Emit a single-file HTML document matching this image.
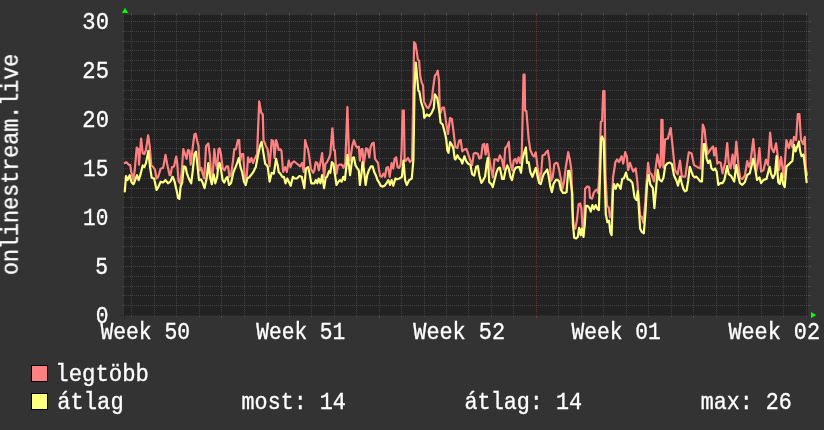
<!DOCTYPE html>
<html><head><meta charset="utf-8"><style>
html,body{margin:0;padding:0;background:#333333;}
body{width:824px;height:430px;overflow:hidden;}
svg{display:block;}
</style></head><body>
<svg width="824" height="430" viewBox="0 0 824 430">
<rect width="824" height="430" fill="#333333"/>
<rect x="124" y="15" width="684" height="301" fill="#222222"/>
<g shape-rendering="crispEdges"><line x1="124" y1="305.5" x2="808" y2="305.5" stroke="rgba(143,143,143,0.28)" stroke-dasharray="1 1"/><rect x="123" y="305" width="1" height="1" fill="rgba(143,143,143,0.28)"/><rect x="808" y="305" width="3" height="1" fill="rgba(143,143,143,0.28)"/><line x1="124" y1="295.5" x2="808" y2="295.5" stroke="rgba(143,143,143,0.28)" stroke-dasharray="1 1"/><rect x="123" y="295" width="1" height="1" fill="rgba(143,143,143,0.28)"/><rect x="808" y="295" width="3" height="1" fill="rgba(143,143,143,0.28)"/><line x1="124" y1="286.5" x2="808" y2="286.5" stroke="rgba(143,143,143,0.28)" stroke-dasharray="1 1"/><rect x="123" y="286" width="1" height="1" fill="rgba(143,143,143,0.28)"/><rect x="808" y="286" width="3" height="1" fill="rgba(143,143,143,0.28)"/><line x1="124" y1="276.5" x2="808" y2="276.5" stroke="rgba(143,143,143,0.28)" stroke-dasharray="1 1"/><rect x="123" y="276" width="1" height="1" fill="rgba(143,143,143,0.28)"/><rect x="808" y="276" width="3" height="1" fill="rgba(143,143,143,0.28)"/><line x1="124" y1="256.5" x2="808" y2="256.5" stroke="rgba(143,143,143,0.28)" stroke-dasharray="1 1"/><rect x="123" y="256" width="1" height="1" fill="rgba(143,143,143,0.28)"/><rect x="808" y="256" width="3" height="1" fill="rgba(143,143,143,0.28)"/><line x1="124" y1="246.5" x2="808" y2="246.5" stroke="rgba(143,143,143,0.28)" stroke-dasharray="1 1"/><rect x="123" y="246" width="1" height="1" fill="rgba(143,143,143,0.28)"/><rect x="808" y="246" width="3" height="1" fill="rgba(143,143,143,0.28)"/><line x1="124" y1="237.5" x2="808" y2="237.5" stroke="rgba(143,143,143,0.28)" stroke-dasharray="1 1"/><rect x="123" y="237" width="1" height="1" fill="rgba(143,143,143,0.28)"/><rect x="808" y="237" width="3" height="1" fill="rgba(143,143,143,0.28)"/><line x1="124" y1="227.5" x2="808" y2="227.5" stroke="rgba(143,143,143,0.28)" stroke-dasharray="1 1"/><rect x="123" y="227" width="1" height="1" fill="rgba(143,143,143,0.28)"/><rect x="808" y="227" width="3" height="1" fill="rgba(143,143,143,0.28)"/><line x1="124" y1="207.5" x2="808" y2="207.5" stroke="rgba(143,143,143,0.28)" stroke-dasharray="1 1"/><rect x="123" y="207" width="1" height="1" fill="rgba(143,143,143,0.28)"/><rect x="808" y="207" width="3" height="1" fill="rgba(143,143,143,0.28)"/><line x1="124" y1="197.5" x2="808" y2="197.5" stroke="rgba(143,143,143,0.28)" stroke-dasharray="1 1"/><rect x="123" y="197" width="1" height="1" fill="rgba(143,143,143,0.28)"/><rect x="808" y="197" width="3" height="1" fill="rgba(143,143,143,0.28)"/><line x1="124" y1="188.5" x2="808" y2="188.5" stroke="rgba(143,143,143,0.28)" stroke-dasharray="1 1"/><rect x="123" y="188" width="1" height="1" fill="rgba(143,143,143,0.28)"/><rect x="808" y="188" width="3" height="1" fill="rgba(143,143,143,0.28)"/><line x1="124" y1="178.5" x2="808" y2="178.5" stroke="rgba(143,143,143,0.28)" stroke-dasharray="1 1"/><rect x="123" y="178" width="1" height="1" fill="rgba(143,143,143,0.28)"/><rect x="808" y="178" width="3" height="1" fill="rgba(143,143,143,0.28)"/><line x1="124" y1="158.5" x2="808" y2="158.5" stroke="rgba(143,143,143,0.28)" stroke-dasharray="1 1"/><rect x="123" y="158" width="1" height="1" fill="rgba(143,143,143,0.28)"/><rect x="808" y="158" width="3" height="1" fill="rgba(143,143,143,0.28)"/><line x1="124" y1="148.5" x2="808" y2="148.5" stroke="rgba(143,143,143,0.28)" stroke-dasharray="1 1"/><rect x="123" y="148" width="1" height="1" fill="rgba(143,143,143,0.28)"/><rect x="808" y="148" width="3" height="1" fill="rgba(143,143,143,0.28)"/><line x1="124" y1="139.5" x2="808" y2="139.5" stroke="rgba(143,143,143,0.28)" stroke-dasharray="1 1"/><rect x="123" y="139" width="1" height="1" fill="rgba(143,143,143,0.28)"/><rect x="808" y="139" width="3" height="1" fill="rgba(143,143,143,0.28)"/><line x1="124" y1="129.5" x2="808" y2="129.5" stroke="rgba(143,143,143,0.28)" stroke-dasharray="1 1"/><rect x="123" y="129" width="1" height="1" fill="rgba(143,143,143,0.28)"/><rect x="808" y="129" width="3" height="1" fill="rgba(143,143,143,0.28)"/><line x1="124" y1="109.5" x2="808" y2="109.5" stroke="rgba(143,143,143,0.28)" stroke-dasharray="1 1"/><rect x="123" y="109" width="1" height="1" fill="rgba(143,143,143,0.28)"/><rect x="808" y="109" width="3" height="1" fill="rgba(143,143,143,0.28)"/><line x1="124" y1="99.5" x2="808" y2="99.5" stroke="rgba(143,143,143,0.28)" stroke-dasharray="1 1"/><rect x="123" y="99" width="1" height="1" fill="rgba(143,143,143,0.28)"/><rect x="808" y="99" width="3" height="1" fill="rgba(143,143,143,0.28)"/><line x1="124" y1="90.5" x2="808" y2="90.5" stroke="rgba(143,143,143,0.28)" stroke-dasharray="1 1"/><rect x="123" y="90" width="1" height="1" fill="rgba(143,143,143,0.28)"/><rect x="808" y="90" width="3" height="1" fill="rgba(143,143,143,0.28)"/><line x1="124" y1="80.5" x2="808" y2="80.5" stroke="rgba(143,143,143,0.28)" stroke-dasharray="1 1"/><rect x="123" y="80" width="1" height="1" fill="rgba(143,143,143,0.28)"/><rect x="808" y="80" width="3" height="1" fill="rgba(143,143,143,0.28)"/><line x1="124" y1="60.5" x2="808" y2="60.5" stroke="rgba(143,143,143,0.28)" stroke-dasharray="1 1"/><rect x="123" y="60" width="1" height="1" fill="rgba(143,143,143,0.28)"/><rect x="808" y="60" width="3" height="1" fill="rgba(143,143,143,0.28)"/><line x1="124" y1="50.5" x2="808" y2="50.5" stroke="rgba(143,143,143,0.28)" stroke-dasharray="1 1"/><rect x="123" y="50" width="1" height="1" fill="rgba(143,143,143,0.28)"/><rect x="808" y="50" width="3" height="1" fill="rgba(143,143,143,0.28)"/><line x1="124" y1="41.5" x2="808" y2="41.5" stroke="rgba(143,143,143,0.28)" stroke-dasharray="1 1"/><rect x="123" y="41" width="1" height="1" fill="rgba(143,143,143,0.28)"/><rect x="808" y="41" width="3" height="1" fill="rgba(143,143,143,0.28)"/><line x1="124" y1="31.5" x2="808" y2="31.5" stroke="rgba(143,143,143,0.28)" stroke-dasharray="1 1"/><rect x="123" y="31" width="1" height="1" fill="rgba(143,143,143,0.28)"/><rect x="808" y="31" width="3" height="1" fill="rgba(143,143,143,0.28)"/><line x1="131.5" y1="15" x2="131.5" y2="316" stroke="rgba(143,143,143,0.28)" stroke-dasharray="1 1"/><rect x="131" y="13" width="1" height="2" fill="rgba(143,143,143,0.28)"/><rect x="131" y="316" width="1" height="1" fill="rgba(143,143,143,0.28)"/><line x1="154.5" y1="15" x2="154.5" y2="316" stroke="rgba(143,143,143,0.28)" stroke-dasharray="1 1"/><rect x="154" y="13" width="1" height="2" fill="rgba(143,143,143,0.28)"/><rect x="154" y="316" width="1" height="1" fill="rgba(143,143,143,0.28)"/><line x1="176.5" y1="15" x2="176.5" y2="316" stroke="rgba(143,143,143,0.28)" stroke-dasharray="1 1"/><rect x="176" y="13" width="1" height="2" fill="rgba(143,143,143,0.28)"/><rect x="176" y="316" width="1" height="1" fill="rgba(143,143,143,0.28)"/><line x1="199.5" y1="15" x2="199.5" y2="316" stroke="rgba(143,143,143,0.28)" stroke-dasharray="1 1"/><rect x="199" y="13" width="1" height="2" fill="rgba(143,143,143,0.28)"/><rect x="199" y="316" width="1" height="1" fill="rgba(143,143,143,0.28)"/><line x1="244.5" y1="15" x2="244.5" y2="316" stroke="rgba(143,143,143,0.28)" stroke-dasharray="1 1"/><rect x="244" y="13" width="1" height="2" fill="rgba(143,143,143,0.28)"/><rect x="244" y="316" width="1" height="1" fill="rgba(143,143,143,0.28)"/><line x1="266.5" y1="15" x2="266.5" y2="316" stroke="rgba(143,143,143,0.28)" stroke-dasharray="1 1"/><rect x="266" y="13" width="1" height="2" fill="rgba(143,143,143,0.28)"/><rect x="266" y="316" width="1" height="1" fill="rgba(143,143,143,0.28)"/><line x1="289.5" y1="15" x2="289.5" y2="316" stroke="rgba(143,143,143,0.28)" stroke-dasharray="1 1"/><rect x="289" y="13" width="1" height="2" fill="rgba(143,143,143,0.28)"/><rect x="289" y="316" width="1" height="1" fill="rgba(143,143,143,0.28)"/><line x1="311.5" y1="15" x2="311.5" y2="316" stroke="rgba(143,143,143,0.28)" stroke-dasharray="1 1"/><rect x="311" y="13" width="1" height="2" fill="rgba(143,143,143,0.28)"/><rect x="311" y="316" width="1" height="1" fill="rgba(143,143,143,0.28)"/><line x1="334.5" y1="15" x2="334.5" y2="316" stroke="rgba(143,143,143,0.28)" stroke-dasharray="1 1"/><rect x="334" y="13" width="1" height="2" fill="rgba(143,143,143,0.28)"/><rect x="334" y="316" width="1" height="1" fill="rgba(143,143,143,0.28)"/><line x1="356.5" y1="15" x2="356.5" y2="316" stroke="rgba(143,143,143,0.28)" stroke-dasharray="1 1"/><rect x="356" y="13" width="1" height="2" fill="rgba(143,143,143,0.28)"/><rect x="356" y="316" width="1" height="1" fill="rgba(143,143,143,0.28)"/><line x1="401.5" y1="15" x2="401.5" y2="316" stroke="rgba(143,143,143,0.28)" stroke-dasharray="1 1"/><rect x="401" y="13" width="1" height="2" fill="rgba(143,143,143,0.28)"/><rect x="401" y="316" width="1" height="1" fill="rgba(143,143,143,0.28)"/><line x1="424.5" y1="15" x2="424.5" y2="316" stroke="rgba(143,143,143,0.28)" stroke-dasharray="1 1"/><rect x="424" y="13" width="1" height="2" fill="rgba(143,143,143,0.28)"/><rect x="424" y="316" width="1" height="1" fill="rgba(143,143,143,0.28)"/><line x1="446.5" y1="15" x2="446.5" y2="316" stroke="rgba(143,143,143,0.28)" stroke-dasharray="1 1"/><rect x="446" y="13" width="1" height="2" fill="rgba(143,143,143,0.28)"/><rect x="446" y="316" width="1" height="1" fill="rgba(143,143,143,0.28)"/><line x1="468.5" y1="15" x2="468.5" y2="316" stroke="rgba(143,143,143,0.28)" stroke-dasharray="1 1"/><rect x="468" y="13" width="1" height="2" fill="rgba(143,143,143,0.28)"/><rect x="468" y="316" width="1" height="1" fill="rgba(143,143,143,0.28)"/><line x1="491.5" y1="15" x2="491.5" y2="316" stroke="rgba(143,143,143,0.28)" stroke-dasharray="1 1"/><rect x="491" y="13" width="1" height="2" fill="rgba(143,143,143,0.28)"/><rect x="491" y="316" width="1" height="1" fill="rgba(143,143,143,0.28)"/><line x1="513.5" y1="15" x2="513.5" y2="316" stroke="rgba(143,143,143,0.28)" stroke-dasharray="1 1"/><rect x="513" y="13" width="1" height="2" fill="rgba(143,143,143,0.28)"/><rect x="513" y="316" width="1" height="1" fill="rgba(143,143,143,0.28)"/><line x1="558.5" y1="15" x2="558.5" y2="316" stroke="rgba(143,143,143,0.28)" stroke-dasharray="1 1"/><rect x="558" y="13" width="1" height="2" fill="rgba(143,143,143,0.28)"/><rect x="558" y="316" width="1" height="1" fill="rgba(143,143,143,0.28)"/><line x1="581.5" y1="15" x2="581.5" y2="316" stroke="rgba(143,143,143,0.28)" stroke-dasharray="1 1"/><rect x="581" y="13" width="1" height="2" fill="rgba(143,143,143,0.28)"/><rect x="581" y="316" width="1" height="1" fill="rgba(143,143,143,0.28)"/><line x1="603.5" y1="15" x2="603.5" y2="316" stroke="rgba(143,143,143,0.28)" stroke-dasharray="1 1"/><rect x="603" y="13" width="1" height="2" fill="rgba(143,143,143,0.28)"/><rect x="603" y="316" width="1" height="1" fill="rgba(143,143,143,0.28)"/><line x1="626.5" y1="15" x2="626.5" y2="316" stroke="rgba(143,143,143,0.28)" stroke-dasharray="1 1"/><rect x="626" y="13" width="1" height="2" fill="rgba(143,143,143,0.28)"/><rect x="626" y="316" width="1" height="1" fill="rgba(143,143,143,0.28)"/><line x1="648.5" y1="15" x2="648.5" y2="316" stroke="rgba(143,143,143,0.28)" stroke-dasharray="1 1"/><rect x="648" y="13" width="1" height="2" fill="rgba(143,143,143,0.28)"/><rect x="648" y="316" width="1" height="1" fill="rgba(143,143,143,0.28)"/><line x1="671.5" y1="15" x2="671.5" y2="316" stroke="rgba(143,143,143,0.28)" stroke-dasharray="1 1"/><rect x="671" y="13" width="1" height="2" fill="rgba(143,143,143,0.28)"/><rect x="671" y="316" width="1" height="1" fill="rgba(143,143,143,0.28)"/><line x1="716.5" y1="15" x2="716.5" y2="316" stroke="rgba(143,143,143,0.28)" stroke-dasharray="1 1"/><rect x="716" y="13" width="1" height="2" fill="rgba(143,143,143,0.28)"/><rect x="716" y="316" width="1" height="1" fill="rgba(143,143,143,0.28)"/><line x1="738.5" y1="15" x2="738.5" y2="316" stroke="rgba(143,143,143,0.28)" stroke-dasharray="1 1"/><rect x="738" y="13" width="1" height="2" fill="rgba(143,143,143,0.28)"/><rect x="738" y="316" width="1" height="1" fill="rgba(143,143,143,0.28)"/><line x1="761.5" y1="15" x2="761.5" y2="316" stroke="rgba(143,143,143,0.28)" stroke-dasharray="1 1"/><rect x="761" y="13" width="1" height="2" fill="rgba(143,143,143,0.28)"/><rect x="761" y="316" width="1" height="1" fill="rgba(143,143,143,0.28)"/><line x1="783.5" y1="15" x2="783.5" y2="316" stroke="rgba(143,143,143,0.28)" stroke-dasharray="1 1"/><rect x="783" y="13" width="1" height="2" fill="rgba(143,143,143,0.28)"/><rect x="783" y="316" width="1" height="1" fill="rgba(143,143,143,0.28)"/><line x1="806.5" y1="15" x2="806.5" y2="316" stroke="rgba(143,143,143,0.28)" stroke-dasharray="1 1"/><rect x="806" y="13" width="1" height="2" fill="rgba(143,143,143,0.28)"/><rect x="806" y="316" width="1" height="1" fill="rgba(143,143,143,0.28)"/><line x1="123" y1="315.5" x2="809" y2="315.5" stroke="rgba(222,79,79,0.38)" stroke-dasharray="1 1"/><rect x="809" y="315" width="2" height="1" fill="rgba(222,79,79,0.38)"/><line x1="123" y1="266.5" x2="809" y2="266.5" stroke="rgba(222,79,79,0.38)" stroke-dasharray="1 1"/><rect x="809" y="266" width="2" height="1" fill="rgba(222,79,79,0.38)"/><line x1="123" y1="217.5" x2="809" y2="217.5" stroke="rgba(222,79,79,0.38)" stroke-dasharray="1 1"/><rect x="809" y="217" width="2" height="1" fill="rgba(222,79,79,0.38)"/><line x1="123" y1="168.5" x2="809" y2="168.5" stroke="rgba(222,79,79,0.38)" stroke-dasharray="1 1"/><rect x="809" y="168" width="2" height="1" fill="rgba(222,79,79,0.38)"/><line x1="123" y1="119.5" x2="809" y2="119.5" stroke="rgba(222,79,79,0.38)" stroke-dasharray="1 1"/><rect x="809" y="119" width="2" height="1" fill="rgba(222,79,79,0.38)"/><line x1="123" y1="70.5" x2="809" y2="70.5" stroke="rgba(222,79,79,0.38)" stroke-dasharray="1 1"/><rect x="809" y="70" width="2" height="1" fill="rgba(222,79,79,0.38)"/><line x1="123" y1="21.5" x2="809" y2="21.5" stroke="rgba(222,79,79,0.38)" stroke-dasharray="1 1"/><rect x="809" y="21" width="2" height="1" fill="rgba(222,79,79,0.38)"/><line x1="221.5" y1="15" x2="221.5" y2="316" stroke="rgba(222,79,79,0.38)" stroke-dasharray="1 1"/><rect x="221" y="316" width="1" height="2" fill="rgba(222,79,79,0.38)"/><rect x="221" y="13" width="1" height="2" fill="rgba(222,79,79,0.38)"/><line x1="379.5" y1="15" x2="379.5" y2="316" stroke="rgba(222,79,79,0.38)" stroke-dasharray="1 1"/><rect x="379" y="316" width="1" height="2" fill="rgba(222,79,79,0.38)"/><rect x="379" y="13" width="1" height="2" fill="rgba(222,79,79,0.38)"/><line x1="536.5" y1="15" x2="536.5" y2="316" stroke="rgba(222,79,79,0.38)" stroke-dasharray="1 1"/><rect x="536" y="316" width="1" height="2" fill="rgba(222,79,79,0.38)"/><rect x="536" y="13" width="1" height="2" fill="rgba(222,79,79,0.38)"/><line x1="693.5" y1="15" x2="693.5" y2="316" stroke="rgba(222,79,79,0.38)" stroke-dasharray="1 1"/><rect x="693" y="316" width="1" height="2" fill="rgba(222,79,79,0.38)"/><rect x="693" y="13" width="1" height="2" fill="rgba(222,79,79,0.38)"/><rect x="120" y="315" width="692" height="1" fill="rgba(30,30,30,0.45)"/><rect x="124" y="13" width="1" height="2" fill="rgba(30,30,30,0.35)"/><rect x="124" y="316" width="1" height="3" fill="rgba(30,30,30,0.5)"/></g>
<path d="M124.8,163 126.4,162.2 128.6,164.6 130.2,165.1 131.3,172 133.4,180.1 134.9,168.7 136.7,147.5 138.3,149.2 139,164.6 141.1,138.6 142.7,153.2 144.3,154 146,150 148.1,135.3 149.7,145.9 151.3,165.4 153.3,167.1 154.9,169.5 156.6,178.5 158.2,176.8 160.6,168.7 163.1,167.9 165.5,154.9 167.1,163.8 169.6,175.2 170.5,175.2 172,167.1 172.8,167.1 174.1,166.3 176.2,156.5 177.3,163.8 178.5,180.9 180.1,183.3 181.7,172 183.3,149.2 185,154 186.6,158.9 187.9,150 189.5,150.8 190.7,164.6 192.5,149.2 194.4,134.5 195.7,133.7 197,140.2 198.5,145.9 199.8,170.3 201.3,167.9 202.6,173.6 204.2,178.5 206.1,145.9 208.3,143.5 209.9,155.7 211.5,180.1 212.8,173.6 214.3,149.2 215.9,163.8 217.2,168.7 218.5,149.2 218.8,149.2 219.6,148.3 220.9,154 222.6,167.9 224.5,170.3 226.5,166.3 228.1,166.3 229.4,176.8 231,175.2 233,160.6 234.3,149.2 235.9,149.2 237.9,140.2 239.2,140.2 240.3,160.6 241.6,154 243.2,154 244.9,180.1 246.5,178.5 248.1,157.3 249.7,162.2 251.4,158.1 253,163 254.6,158.9 257.1,154 259.2,101.4 261.2,112.8 262.8,114.4 263.5,140 264.4,142.1 266,146.2 267.6,149.2 269.6,166.3 271.7,140.2 273.3,141 274.5,158.1 276.1,140.2 277.4,144.3 278.7,150 280.3,149.2 281.5,150.8 283.1,172 285.2,167.1 286.8,172 288.8,160.6 290.4,167.1 292,163 294,161.4 296.1,163 298.2,164.6 300.2,166.3 302.1,163 303.8,172 305.1,140.2 306.7,145.9 308,149.2 309.1,155.7 310.8,168.7 313.2,172.8 314.5,170.3 314.8,167.1 315.8,162.2 317.3,163 318.9,170.3 320.8,160.6 322.1,153.2 324.1,176.8 325.4,163.8 327,162.2 329,158.1 330.3,154 332.4,128.3 333.9,150.2 334.8,150 336.5,173.6 338.1,165.4 340,164.6 341.7,164.6 343.6,167.9 345.3,163 347.4,107.1 349,155 350.1,160.6 352.3,145.9 353.9,140.2 355.5,145.1 357.1,147.5 358.8,146.7 359.9,160.6 361.5,149.2 362.5,149.2 363.6,165.4 366.1,148.3 367.7,149.2 369.3,157.3 370.5,147.5 372.1,143.5 373.7,142.7 375,158.9 376.3,160.6 378,163 379.1,170.3 380.2,176 381.9,176.8 383.5,173.6 385.1,176.8 386.4,167.9 388,167.1 389.7,176.8 391.6,163 393.3,168.7 394.6,158.9 396.2,157.3 397.5,167.1 399.1,167.9 400.7,164.6 401.6,150 402.6,110.5 403.8,110.5 404.6,160 405.5,161 408,158 410,162 412,160 413.2,100 414.1,42.2 415.4,43.8 416.7,51.2 417.8,59.3 419.1,60.9 420.2,75.6 421.5,82.1 423,85.4 424,101.5 426.8,107.2 428.4,108 430,104.8 432.1,98.3 432.8,90.3 434.9,75.6 436.5,74 437.7,70.7 439,80.5 439.8,111.3 440.6,113 442.3,107.5 444,107.5 446.5,124.9 448,134 450,118 451.8,119 453.4,130.7 455.3,147 457.4,148 459.1,140.7 460.7,139.9 462.3,151.3 464,149.7 466.4,148.8 468,153.7 470.5,161 472.1,165.1 473.7,153.7 475.3,152.9 477.8,153.7 479.4,158.6 481,157.8 482.7,144.8 484.3,144 485.6,154.5 487.2,144 488.9,156.2 490.5,165.9 492.8,177.3 494.4,159.4 496.5,159.4 498.1,161 499.8,155.3 501.9,159.4 503.8,169.2 505.2,148.3 507.2,145.9 508.8,141.8 510.1,160.6 511.2,167.1 512.4,170.3 513.7,160.6 515.3,158.9 516.9,163 518.6,157.3 520.2,163 521.8,154 523.5,74.7 524.6,74.7 525.1,110.5 526.4,111.3 528.7,139.4 530.3,150 532.4,154.9 534,156.5 535.8,152.4 537.6,167.7 539.7,179.9 541.3,171.7 542.5,155.5 544.6,154.7 546.2,152.2 547.8,150.6 549.5,161.2 551.1,180.7 552.7,177.4 554.3,164.4 556,162.8 557.6,163.6 559.2,170.1 560.9,179.1 562.5,188.8 564.1,181.5 565.7,167.7 568.2,152.2 569.8,159.5 571.4,170.1 572.1,207.6 573.7,225.5 575.3,228.7 577,219.8 578.6,204.3 580.2,203.5 581.4,208.4 582.7,230.4 584,228.7 585.1,188.8 587.5,186.4 589.2,187.2 590,197.8 592.1,198.6 593.7,192.9 595.3,190.5 597,189.7 598.1,192.9 599.3,175 600.8,121.9 602.1,121 603.2,91 604.5,91 605.5,175 607.1,205.9 608.7,207.6 610,217.3 611.5,215 613,177.5 615.4,162 617,159.5 619,162 621.6,156.3 623.2,163.6 625.2,152.2 626.8,156.3 628.1,170.1 630,162.8 631.7,167.7 633.3,171.5 635.7,168.3 637.3,181.3 640.1,215.5 641.7,217.1 643.3,222.8 645,205.7 646.3,186.2 648.1,162.8 649.6,172.5 651.6,174.4 654,181.4 657.4,154.7 659.8,167.4 660.7,165 661.4,119.8 662.5,119.8 663.3,167.4 665.1,139.5 667.9,138.4 670.7,128 672.6,146.5 674.9,169.8 677.7,174.4 680,160.5 681.9,176.7 685.3,176.7 688.8,152.3 691.6,153.5 694,165.1 698.1,167.4 700.6,168.5 702.8,124.5 704.5,129.4 706.1,144.1 707.7,153.8 710.2,149.8 711.5,148.1 713.1,146.5 714.2,155.5 715.9,148.1 717.2,163.6 718.8,162 720.7,162.8 722.5,173.4 725.3,162 727.2,143.2 728.8,163.6 730.5,168.5 732.6,154.6 734.2,168.5 736.3,141.6 738.6,166.8 740.2,178.2 742.3,179 744.8,175.8 747.2,161.1 748.9,166.8 750.5,162 753.3,139.2 756.2,171.7 757.8,163.6 759.4,148.1 761.1,171.7 763.5,170.1 766,159.5 768,165.2 770.1,132.7 771.7,148.2 773.8,152.2 776.1,143.3 777.7,155.5 779,170.1 781,157.1 783.9,177.3 786.4,140 788.8,148.2 790.8,140 792.4,147.3 794,136.8 796.1,140 797.8,114 799.4,114 801,140 803.1,144.1 804.8,136.8 805.9,168.5 807,175" fill="none" stroke="#ff8080" stroke-width="2.2" stroke-linejoin="round" stroke-linecap="round"/>
<path d="M124.8,191.5 126,176 127.6,180.1 129.7,175.2 131.3,181.7 133.4,184.2 134.6,181.7 137,175.2 138.7,180.1 140.3,175.2 142.7,165.4 144.3,167.1 146,163 148.4,150.8 150,167.1 151.7,177.7 154.1,178.5 156.6,189.9 158.2,187.4 160.6,181.7 163.1,182.5 165.5,180.1 168,183.3 170.4,181.7 172.4,176.8 172.8,176.8 174.6,181.7 176.5,189.9 178.1,198 179.4,198.8 180.6,186.6 182.2,182.5 183.8,166.3 185.5,167.1 186.8,172.8 188.2,176.8 189.5,180.1 191.2,183.3 192.8,170.3 194.4,154 196,151.6 197.3,163.8 199,180.1 200.9,179.3 202.6,182.5 204.5,188.2 206.6,178.5 208.3,163 209.9,176.8 211.8,184.2 213.6,174.4 215.3,183.3 217.2,176.8 218.5,163.8 218.8,165.4 219.6,163 220.9,168.7 222.6,180.1 224.2,182.5 226.1,178.5 227.4,176.8 229.1,185 231,183.3 233.5,172 235.6,167.1 237.5,162.2 238.8,158.1 240.5,167.1 242.1,172 244,181.7 245.7,185 247.3,178.5 249.7,176.8 252.2,173.6 253.8,171.1 255.8,167.1 257.9,155.7 260,145.9 261.6,141.8 263.3,152.4 265.2,163.8 266.8,165.4 267.8,167.1 269.6,181.7 271.7,172.8 273.8,173.6 276.1,158.9 277.7,165.4 278.7,172 280.3,173.6 282.3,176.8 283.9,176.8 285.5,183.3 287.2,178.5 288.8,181.7 290.7,185.8 292.9,176.8 294.5,178.5 296.9,178.5 299.4,176 301.8,176.8 304.3,188.2 305.9,168.7 308,167.1 309.6,173.6 311.3,183.3 313.2,183.3 314.5,183.3 315.8,180.1 317.3,183.3 318.6,178.5 320.5,183.3 322.1,175.2 324.1,188.2 325.7,177.7 327,176.8 329,171.1 330.3,172.8 331.9,162.2 333.5,163.8 334.8,173.6 336.5,185 338.4,181.7 340,180.1 341.7,181.7 343.3,176.8 344.9,180.1 346.2,167.9 347.4,154.9 348.7,163.8 350.1,175.2 352.3,158.1 353.9,157.3 355.5,165.4 357.1,167.9 358.8,170.3 359.9,185 361.5,173.6 362.5,162.2 363.8,168.7 365.6,185 367.2,175.2 368.8,170.3 371,166.3 372.6,166.3 374.2,172 375.8,175.2 377.5,180.1 379.1,182.5 380.7,185.8 382.3,186.6 384.5,185.8 386.4,183.3 388.4,180.1 390,185 391.6,180.1 393.3,185.8 395.4,178.5 397,179.3 399.4,178.5 401.9,176.8 403.5,160.6 405.1,180.1 406.8,185 409.2,180.1 411.8,178.5 413.4,160 414.5,90 415.8,62.6 417,75.6 418.3,90.3 419.4,91.9 421,101.5 423.5,109.7 424.3,117.8 426.8,114.5 429.2,116.2 431.6,112.9 433.8,108 434.9,94.3 436.5,96.8 437.3,98.3 439.3,111.3 440.6,122.7 442.6,124.3 444.8,132.5 446.2,138.9 447.3,150.3 448.5,152.8 450.1,142.2 451.7,144.6 453.3,147.9 454.7,158.5 455.5,159.4 457.4,155.3 459.1,158.6 460.7,159.4 462.3,163.5 464.4,156.2 466.1,161 468,163.5 470.5,165.1 472.1,174.1 474.2,175.7 476.2,166.7 477.8,165.9 479.4,175.7 481.4,183 483,180.6 485.1,176.5 486.7,163.5 487.9,157.8 489.2,182.2 491.1,183.8 492.8,187.1 494.4,180.6 496.5,172.4 498.1,168.4 499.8,167.6 502.2,179 503.8,179 505.5,170.3 507.2,165.4 508.8,168.7 510.4,176.8 512,180.1 514,171.1 515.6,167.9 517.7,167.1 519.4,167.1 521,172.8 522.6,158.9 524.3,152.4 525.9,147.5 527,163 528.7,162.2 530.3,172 532.4,176.8 534.5,171.1 535.8,167.9 537.6,176.6 539.2,183.1 540.8,184 542.5,177.4 544.1,173.4 545.7,171.7 547.3,169.3 548.7,176.6 550.3,186.4 551.9,192.1 553.5,184 556,179.9 557.6,179.9 559.2,181.5 560.9,189.7 563,192.9 564.9,192.9 566.6,192.1 568.2,170.9 569.5,170.9 570.6,180.7 572.3,193.7 572.9,223.8 574.2,237.7 576.1,238.5 577.8,236.9 579.1,227.9 580.7,235.2 581.8,228.7 583.5,236.9 584.8,223.8 585.9,205.9 587.5,205.9 589.2,207.6 590.8,211.6 592.4,205.1 594,209.2 595.7,205.1 597.6,209.2 598.9,210 601.3,137.4 602.1,136.5 603.7,140.6 605.8,214.1 607.4,222.2 609,220.6 610.3,232 611.6,235.2 613,190.5 614.1,184 615.7,188.8 617.4,184 619,185.6 620.6,188.8 622.2,179.1 623.9,178.3 626,172.6 627.6,179.1 629.7,179.9 630.5,180.5 632.4,182.9 634.6,197.6 636.5,200 637.8,191 640.1,228.5 641.7,231.8 643.8,233.4 645.5,212.2 647.1,182.9 648.7,174.8 650.3,184.5 652.8,187.8 654.4,208.1 656,189.4 657.7,169.9 659.3,179.6 661.7,181.3 663.4,178 665.3,165.7 667.5,163.3 669.9,162.5 671.9,164.1 674,175.5 676.5,180.7 678,185.6 680.1,176.6 681.7,183.1 683.3,188.8 685,191.3 686.6,190.5 688.2,180.7 689.8,166.9 691.5,171.7 693.1,175.8 694.7,177.4 696.4,176.6 698.5,179.1 700.4,181.5 702,181.5 703.7,144.1 705,144.1 706.6,158.7 708.2,163 709.9,160.4 711.5,168.5 713.4,170.1 715.1,168.5 716.7,171.7 718.3,184.8 720.3,183.1 722.5,183.1 724.4,179.9 727.2,166 728.8,174.2 731,175.8 734.2,181.5 736.3,165.2 738.3,176.6 739.9,183.1 742.3,184.8 744.8,182.3 747.2,175 749.7,173.4 753.3,158.7 755.4,170.1 757,179.9 759.4,177.4 761.1,183.1 763.5,179.9 766.5,179 769.6,166.8 770.9,173.3 772.8,178.2 775,174.1 776.6,156.2 778.2,182.2 779.8,183.9 781.5,173.3 783.1,183.9 784.7,187.1 786.4,166.8 788,165.1 790.4,162.7 792.4,161 794,144.8 795.6,151.3 798.9,141.5 800.2,151.3 801.5,156.2 803.5,154.5 805.1,167.6 806.6,182.2" fill="none" stroke="#ffff80" stroke-width="2.2" stroke-linejoin="round" stroke-linecap="round"/>
<polygon points="121.9,13 128.1,13 125,7.8" fill="#00ff00"/>
<polygon points="811,312 811,318.2 816.2,315.1" fill="#00ff00"/>
<g style="filter:opacity(1)" font-family="&quot;Liberation Mono&quot;, monospace" font-size="21.33" fill="#ffffff" stroke="#ffffff" stroke-width="0.3"><text transform="translate(82.36,29.00) scale(1.039,1.12)">30</text><text transform="translate(82.36,78.00) scale(1.039,1.12)">25</text><text transform="translate(82.36,127.00) scale(1.039,1.12)">20</text><text transform="translate(83.02,176.20) scale(0.991,1.12)">15</text><text transform="translate(83.02,225.05) scale(0.991,1.12)">10</text><text transform="translate(95.30,274.00) scale(1.000,1.12)">5</text><text transform="translate(95.80,323.00) scale(1.000,1.12)">0</text><text transform="translate(100.40,338.90) scale(1.001,1.12)">Week 50</text><text transform="translate(256.30,338.90) scale(0.993,1.12)">Week 51</text><text transform="translate(413.30,338.90) scale(1.025,1.12)">Week 52</text><text transform="translate(571.40,338.90) scale(0.998,1.12)">Week 01</text><text transform="translate(728.40,338.90) scale(1.023,1.12)">Week 02</text><text transform="translate(55.26,380.90) scale(1.046,1.12)">legtöbb</text><text transform="translate(57.36,408.80) scale(1.036,1.12)">átlag</text><text transform="translate(241.58,408.70) scale(1.019,1.12)">most: 14</text><text transform="translate(464.48,408.60) scale(1.022,1.12)">átlag: 14</text><text transform="translate(700.63,408.70) scale(1.018,1.12)">max: 26</text><text transform="translate(18.00,275.02) rotate(-90) scale(1.018,1.12)">onlinestream.live</text></g>
<rect x="31.5" y="365.5" width="16" height="16" fill="#ff8080" stroke="#000" stroke-width="1" shape-rendering="crispEdges"/>
<rect x="31.5" y="393.5" width="16" height="16" fill="#ffff80" stroke="#000" stroke-width="1" shape-rendering="crispEdges"/>
</svg>
</body></html>
